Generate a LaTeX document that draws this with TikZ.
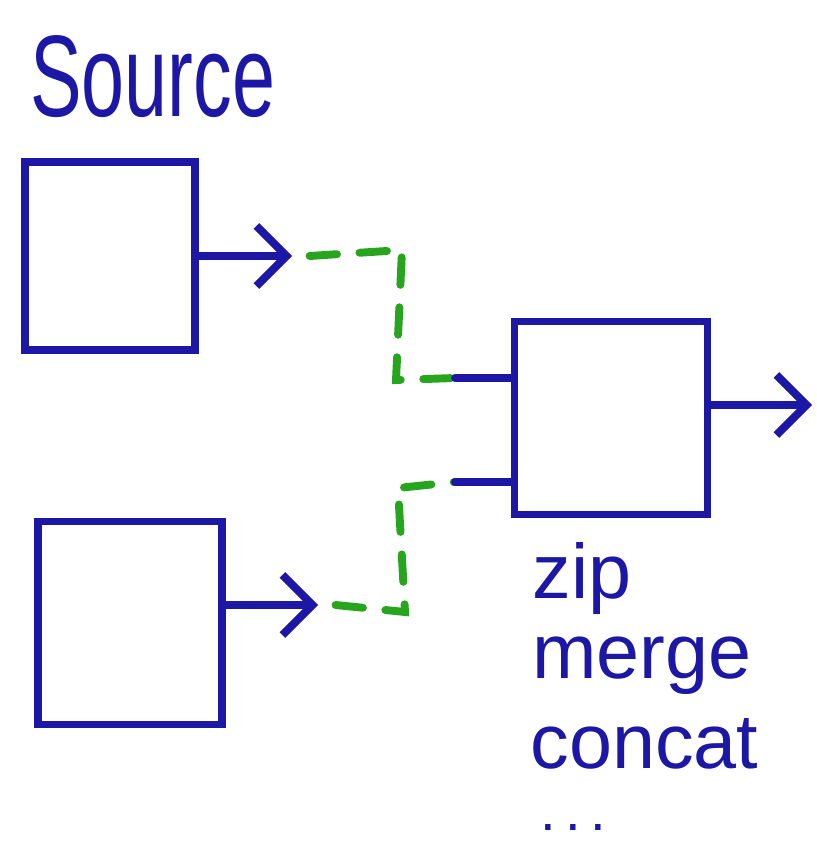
\documentclass[tikz,border=0pt]{standalone}
\usepackage{fontspec}
\setmainfont{Liberation Sans}
\usetikzlibrary{arrows.meta}
\definecolor{penblue}{RGB}{28,24,165}
\definecolor{pengreen}{RGB}{40,165,30}
\begin{document}
\begin{tikzpicture}[x=0.2mm, y=-0.2mm,
    box/.style = {draw=penblue, line width=4.5pt, inner sep=0pt},
    wire/.style = {penblue, line width=4.5pt, line cap=round},
    flow/.style = {wire, -{Straight Barb[length=6mm, width=12mm, line width=4.5pt]}},
    link/.style = {pengreen, line width=4.5pt, line cap=round, dash pattern=on 5.5mm off 4.5mm},
    word/.style = {penblue, font=\fontsize{44}{54}\selectfont, inner sep=0pt, anchor=base west}]
      \useasboundingbox (0,0) rectangle (816,843);
      \node [word, anchor=south west] (title) at (30,118) {\scalebox{1}[1.5]{Source}};
      \node [box, minimum width=170*0.2mm, minimum height=188*0.2mm] (src1) at (110,256) {};
      \node [box, minimum width=184*0.2mm, minimum height=203*0.2mm] (src2) at (130,623) {};
      \node [box, minimum width=193*0.2mm, minimum height=193*0.2mm] (op) at (611,418) {};
      \coordinate (o1) at (292,256);
      \coordinate (c1) at (402,250); \coordinate (c2) at (396,380);
      \coordinate (i1) at (455,378);
      \coordinate (o2) at (318,605);
      \coordinate (c3) at (405,612); \coordinate (c4) at (398,488);
      \coordinate (i2) at (455,482);
      \coordinate (out) at (812,405);
      \draw [flow] (src1.east |- o1) -- (o1);
      \draw [flow] (src2.east |- o2) -- (o2);
      \draw [flow] (op.east |- out) -- (out);
      \draw [link] ([xshift=10pt]o1) -- (c1) -- (c2) -- (i1);
      \draw [link] ([xshift=10pt]o2) -- (c3) -- (c4) -- (i2);
      \draw [wire] (i1) -- (i1 -| op.west);
      \draw [wire] (i2) -- (i2 -| op.west);
      \node [word] (zip) at (532,598) {zip};
      \node [word] (merge) at (532,678) {merge};
      \node [word] (concat) at (530,768) {concat};
      \node [word, font=\fontsize{32}{36}\selectfont] (more) at (540,830) {.\,.\,.};
     \end{tikzpicture}
\end{document}
